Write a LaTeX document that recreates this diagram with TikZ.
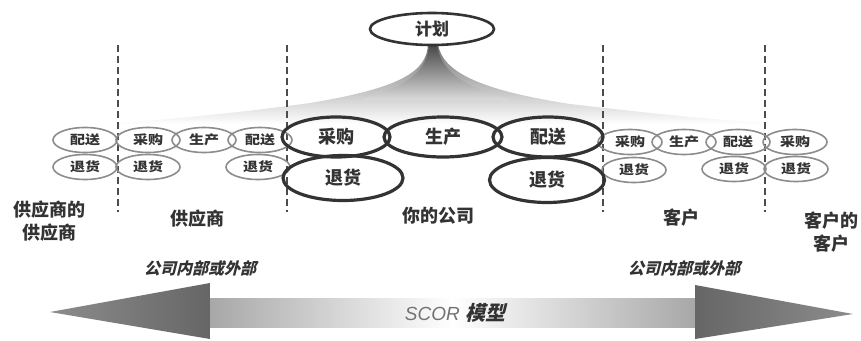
\documentclass[tikz,border=0pt]{standalone}
\usepackage{fontspec}
\newfontfamily\cjk{Noto Sans CJK SC}
\newfontfamily\cjkwide{Noto Sans CJK SC}[FakeStretch=1.2]
\newfontfamily\cjkit{Noto Sans CJK SC}[FakeSlant=0.25]
\newfontfamily\scorf{Liberation Sans}
\usetikzlibrary{shapes.geometric}
\begin{document}
\begin{tikzpicture}[x=1pt,y=-1pt,
  smallell/.style={ellipse, draw=black!45, line width=1.6pt, minimum width=64pt, minimum height=25pt, inner sep=0pt, font=\cjkwide\bfseries\fontsize{12.5}{12.5}\selectfont, text=black!80},
  bigell/.style={ellipse, draw=black!80, line width=3.2pt, minimum height=40pt, inner sep=0pt, font=\cjk\bfseries\fontsize{18}{18}\selectfont, text=black!80},
  planell/.style={ellipse, draw=black!80, line width=2.6pt, minimum width=124pt, minimum height=32pt, inner sep=0pt, font=\cjk\bfseries\fontsize{17}{17}\selectfont, text=black!80},
  region/.style={align=center, inner sep=0pt, font=\cjk\bfseries\fontsize{18}{23}\selectfont, text=black!80},
  inout/.style={inner sep=0pt, font=\cjkit\bfseries\fontsize{16}{16}\selectfont, text=black!80},
  dashline/.style={draw=black!70, line width=1.2pt, dash pattern=on 7pt off 4pt}
]
\useasboundingbox (0,0) rectangle (861,340);
\fill[white] (0,0) rectangle (861,340);

% funnel from plan: light wide layer, then darker core
\shade[top color=black!55, middle color=black!18, bottom color=white]
  (428,44) .. controls (427,72) and (400,88) .. (310,103)
  .. controls (230,114) and (170,119) .. (110,124) -- (780,124)
  .. controls (700,119) and (640,112) .. (570,104)
  .. controls (480,90) and (442,72) .. (438,44) -- cycle;
\shade[top color=black!85, middle color=black!40, bottom color=black!12, fill opacity=0.6]
  (429,44) .. controls (428,70) and (410,85) .. (360,100)
  -- (510,100) .. controls (460,85) and (440,70) .. (437,44) -- cycle;

% dashed boundaries
\foreach \n/\x in {1/118,2/287,3/603,4/765}{
  \coordinate (d\n t) at (\x,45);
  \coordinate (d\n b) at (\x,212);
  \draw[dashline] (d\n t) -- (d\n b);
}

% plan
\node[planell, fill=white] (plan) at (432,29) {计划};

% left small ellipses
\node[smallell] (a1) at (85,140) {配送};
\node[smallell] (a2) at (148,140) {采购};
\node[smallell] (a3) at (204,140) {生产};
\node[smallell] (a4) at (260,140) {配送};
\node[smallell] (b1) at (85,167) {退货};
\node[smallell] (b2) at (148,167) {退货};
\node[smallell] (b4) at (258,167) {退货};

% right small ellipses
\node[smallell] (c1) at (630,142) {采购};
\node[smallell] (c2) at (684,142) {生产};
\node[smallell] (c3) at (738,142) {配送};
\node[smallell] (c4) at (795,142) {采购};
\node[smallell] (e1) at (634,170) {退货};
\node[smallell] (e3) at (734,169) {退货};
\node[smallell] (e4) at (796,169) {退货};

% big ellipses (your company)
\node[bigell, minimum width=108pt] (s) at (336,137) {采购};
\node[bigell, minimum width=118pt] (m) at (443,137) {生产};
\node[bigell, minimum width=110pt] (d) at (548,137) {配送};
\node[bigell, minimum width=120pt, minimum height=45pt] (r1) at (343,178) {退货};
\node[bigell, minimum width=115pt, minimum height=45pt] (r2) at (547,180) {退货};

% region labels
\node[region] (l1) at (49,221) {供应商的\\供应商};
\node[region] (l2) at (197,219) {供应商};
\node[region] (l3) at (438,216) {你的公司};
\node[region] (l4) at (681,218) {客户};
\node[region] (l5) at (831,232) {客户的\\客户};

\node[inout] (io1) at (200,268) {公司内部或外部};
\node[inout] (io2) at (684,268) {公司内部或外部};

% SCOR double arrow
\shade[left color=black!35, right color=black!35, middle color=white] (205,298) rectangle (700,327);
\shade[left color=black!45, right color=black!60] (50,312) -- (210,283) -- (210,339) -- cycle;
\shade[left color=black!60, right color=black!45] (695,285) -- (853,314) -- (695,339) -- cycle;
\node[inner sep=0pt] (scor) at (455,313) {\scorf\itshape\fontsize{19}{19}\selectfont\color{black!55}SCOR \cjkit\bfseries\fontsize{20}{20}\selectfont\color{black!80}模型};
\end{tikzpicture}
\end{document}
